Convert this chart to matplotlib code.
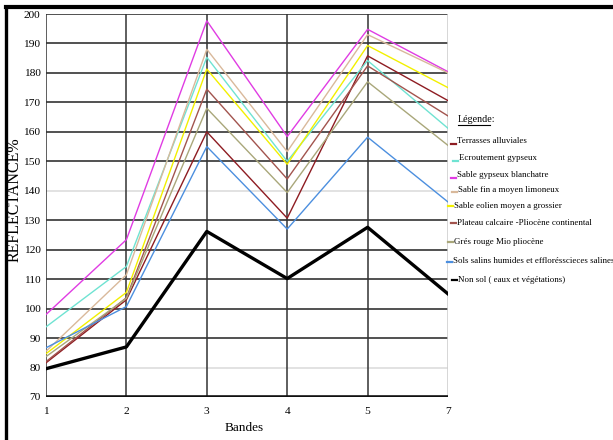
import matplotlib
matplotlib.use("Agg")
import matplotlib.pyplot as plt
from matplotlib.lines import Line2D

# ---------------- data ----------------
bands = ["1", "2", "3", "4", "5", "7"]
yticks = [70, 80, 90, 100, 110, 120, 130, 140, 150, 160, 170, 180, 190, 200]

terrasses = [81.6, 103.0, 160.0, 130.7, 185.8, 170.6]
ecroutement = [93.8, 114.3, 185.3, 150.0, 184.2, 161.2]
sable_gypseux = [98.0, 123.4, 197.7, 158.4, 194.8, 180.4]
sable_fin = [85.5, 111.5, 188.0, 153.3, 193.0, 180.0]
sable_eolien = [84.7, 105.5, 181.3, 149.0, 189.3, 175.0]
plateau = [82.0, 103.7, 174.5, 144.0, 182.4, 165.4]
gres = [83.7, 103.5, 168.0, 139.4, 177.0, 155.4]
sols_salins = [86.7, 100.7, 155.0, 127.0, 158.2, 136.2]
non_sol = [79.6, 87.0, 126.2, 110.2, 127.6, 105.0]

labels = [
    "Terrasses alluviales",
    "Ecroutement gypseux",
    "Sable gypseux blanchatre",
    "Sable fin a moyen limoneux",
    "Sable eolien moyen a grossier",
    "Plateau calcaire -Pliocène continental",
    "Grés rouge Mio pliocène",
    "Sols salins humides et efflorésscieces salines",
    "Non sol ( eaux et végétations)",
]
series = [terrasses, ecroutement, sable_gypseux, sable_fin, sable_eolien,
          plateau, gres, sols_salins, non_sol]
colors = ["#8E1C22", "#6FE3D2", "#E03CE3", "#D9B99B", "#F2F000",
          "#A2544E", "#A9A77A", "#4C8FDF", "#000000"]
widths = [1.0] * 8 + [2.4]

# ---------------- figure ----------------
W, H = 613, 440
fig = plt.figure(figsize=(W / 100, H / 100), dpi=100)
SERIF = ["Liberation Serif", "DejaVu Serif"]


def fx(px):
    return px / W


def fy(py):
    return 1 - py / H


ax = fig.add_axes([fx(46), fy(397), fx(448) - fx(46), fy(14) - fy(397)])
xs = list(range(len(bands)))

light_y = {80, 140}
for v in yticks:
    if v == 70:
        continue
    c = "#dddddd" if v in light_y else "#333333"
    ax.axhline(v, color=c, lw=1.2, zorder=1)
for i in range(len(bands) - 1):
    ax.axvline(i, color="#333333", lw=1.1, zorder=1)
ax.axvline(len(bands) - 1, color="#cccccc", lw=1.1, zorder=1)
ax.axhline(70, color="#111111", lw=2.6, zorder=4)

for vals, c, lw in zip(series, colors, widths):
    ax.plot(xs, vals, color=c, lw=lw, zorder=3)

ax.set_xlim(0, len(bands) - 1)
ax.set_ylim(70, 200)
ax.set_xticks(xs)
ax.set_xticklabels(bands, fontfamily=SERIF, fontsize=8.2)
ax.set_yticks(yticks)
ax.set_yticklabels([str(v) for v in yticks], fontfamily=SERIF, fontsize=8.2)
ax.tick_params(length=0, pad=4)
ax.tick_params(axis="x", pad=7)
for s in ax.spines.values():
    s.set_visible(False)

fig.text(fx(15), fy(200), "REFLECTANCE%", rotation=90, ha="center", va="center",
         fontfamily=SERIF, fontsize=11.5)
fig.text(fx(244), fy(428), "Bandes", ha="center", va="center",
         fontfamily=SERIF, fontsize=9.5)

# frame of the picture (left and top)
fig.add_artist(Line2D([fx(6), fx(6)], [fy(7), fy(440)], color="black", lw=2.4,
                      transform=fig.transFigure))
fig.add_artist(Line2D([fx(6), fx(613)], [fy(7), fy(7)], color="black", lw=3.0,
                      transform=fig.transFigure))

# ---------------- legend ----------------
fig.text(fx(458), fy(119), "Légende:", ha="left", va="center",
         fontfamily=SERIF, fontsize=7.2)
fig.add_artist(Line2D([fx(458), fx(490)], [fy(125), fy(125)], color="black",
                      lw=0.8, transform=fig.transFigure))

entry_y = [141, 158, 175, 190, 206, 223, 242, 261, 280]
mark_x = [451, 453, 451, 452, 448, 451, 448, 447, 452]
mark_dy = [3, 3, 3, 2, 0, 0, 0, 1, 0]
for lab, c, yy, mx, dy in zip(labels, colors, entry_y, mark_x, mark_dy):
    fig.add_artist(Line2D([fx(mx), fx(mx + 5)], [fy(yy + dy), fy(yy + dy)],
                          color=c, lw=1.6, transform=fig.transFigure))
    fig.text(fx(mx + 6), fy(yy), lab, ha="left", va="center",
             fontfamily=SERIF, fontsize=6.4)

fig.savefig("out.png", dpi=100)
